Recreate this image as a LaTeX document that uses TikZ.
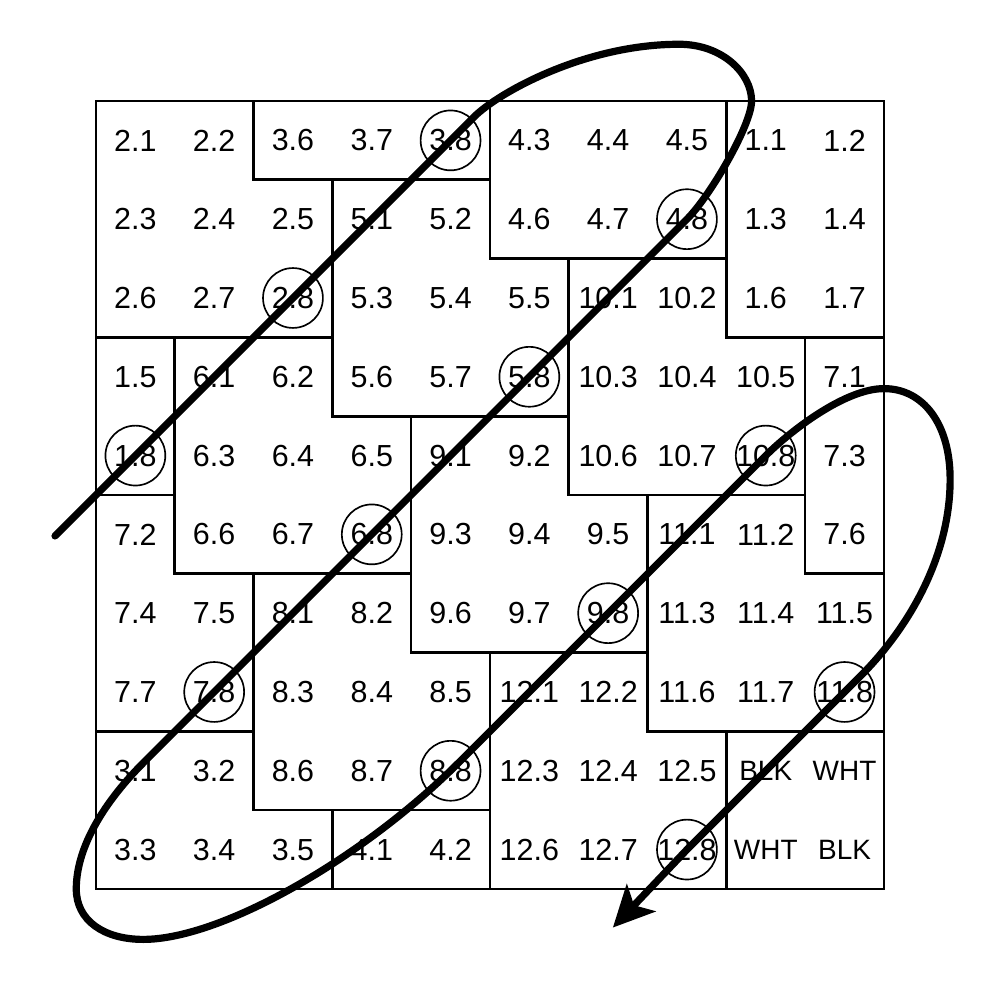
\documentclass[tikz,border=0pt]{standalone}
\usepackage{fontspec}
\setmainfont{Liberation Sans}
\usetikzlibrary{arrows.meta}
\newcommand\tagfont{\fontsize{10.1}{12}\selectfont}
\tikzset{
  cell/.style={inner sep=0pt, font=\fontsize{11}{13}\selectfont},
  ring/.style={circle, draw, line width=0.6pt, minimum size=0.76cm, inner sep=0pt},
  wall/.style={line width=0.95pt},
  track/.style={line width=2.6pt, line cap=round, line join=round,
    -{Stealth[length=5.2mm,width=5mm,inset=1.3mm]}},
}
\begin{document}
\begin{tikzpicture}
  \useasboundingbox (-1.218,-1.409) rectangle (11.472,11.282);
  % cells, one row per line
  \foreach \t [count=\c from 0] in {2.1,2.2,3.6,3.7,3.8,4.3,4.4,4.5,1.1,1.2}
    \node[cell] (a\c) at (\c+.5,9.5) {\t};
  \foreach \t [count=\c from 0] in {2.3,2.4,2.5,5.1,5.2,4.6,4.7,4.8,1.3,1.4}
    \node[cell] (b\c) at (\c+.5,8.5) {\t};
  \foreach \t [count=\c from 0] in {2.6,2.7,2.8,5.3,5.4,5.5,10.1,10.2,1.6,1.7}
    \node[cell] (c\c) at (\c+.5,7.5) {\t};
  \foreach \t [count=\c from 0] in {1.5,6.1,6.2,5.6,5.7,5.8,10.3,10.4,10.5,7.1}
    \node[cell] (d\c) at (\c+.5,6.5) {\t};
  \foreach \t [count=\c from 0] in {1.8,6.3,6.4,6.5,9.1,9.2,10.6,10.7,10.8,7.3}
    \node[cell] (e\c) at (\c+.5,5.5) {\t};
  \foreach \t [count=\c from 0] in {7.2,6.6,6.7,6.8,9.3,9.4,9.5,11.1,11.2,7.6}
    \node[cell] (f\c) at (\c+.5,4.5) {\t};
  \foreach \t [count=\c from 0] in {7.4,7.5,8.1,8.2,9.6,9.7,9.8,11.3,11.4,11.5}
    \node[cell] (g\c) at (\c+.5,3.5) {\t};
  \foreach \t [count=\c from 0] in {7.7,7.8,8.3,8.4,8.5,12.1,12.2,11.6,11.7,11.8}
    \node[cell] (h\c) at (\c+.5,2.5) {\t};
  \foreach \t [count=\c from 0] in {3.1,3.2,8.6,8.7,8.8,12.3,12.4,12.5,{\tagfont BLK},{\tagfont WHT}}
    \node[cell] (i\c) at (\c+.5,1.5) {\t};
  \foreach \t [count=\c from 0] in {3.3,3.4,3.5,4.1,4.2,12.6,12.7,12.8,{\tagfont WHT},{\tagfont BLK}}
    \node[cell] (j\c) at (\c+.5,0.5) {\t};

  % region walls
  \draw[wall] (0,0) rectangle (10,10);
  \draw[wall] (2,10) -- (2,9) -- (5,9);
  \draw[wall] (5,10) -- (5,8) -- (8,8);
  \draw[wall] (8,10) -- (8,7) -- (10,7);
  \draw[wall] (3,9) -- (3,6) -- (6,6) (0,7) -- (3,7);
  \draw[wall] (6,8) -- (6,5) -- (9,5) (9,7) -- (9,4) -- (10,4);
  \draw[wall] (1,7) -- (1,4) -- (4,4) (0,5) -- (1,5);
  \draw[wall] (4,6) -- (4,3) -- (7,3);
  \draw[wall] (7,5) -- (7,2) -- (10,2);
  \draw[wall] (2,4) -- (2,1) -- (5,1) (0,2) -- (2,2);
  \draw[wall] (5,3) -- (5,0);
  \draw[wall] (3,1) -- (3,0);
  \draw[wall] (8,2) -- (8,0);

  % circled cells
  \node[ring] (ring1) at (e0) {};
  \node[ring] (ring2) at (c2) {};
  \node[ring] (ring3) at (a4) {};
  \node[ring] (ring4) at (b7) {};
  \node[ring] (ring5) at (d5) {};
  \node[ring] (ring6) at (f3) {};
  \node[ring] (ring7) at (h1) {};
  \node[ring] (ring8) at (i4) {};
  \node[ring] (ring9) at (g6) {};
  \node[ring] (ring10) at (e8) {};
  \node[ring] (ring11) at (h9) {};
  \node[ring] (ring12) at (j7) {};

  \coordinate (start) at (-0.52,4.48);
  \coordinate (stop) at (6.56,-0.49);
  \draw[track] (start) -- (ring1.center) -- (ring2.center) -- (ring3.center) -- (4.8,9.8)
    .. controls (5.1,10.1) and (6.2,10.72) .. (7.4,10.72)
    .. controls (7.95,10.72) and (8.32,10.35) .. (8.32,10)
    .. controls (8.32,9.7) and (7.8,8.8) .. (ring4.center)
    -- (ring5.center) -- (ring6.center) -- (ring7.center) -- (0.6,1.6)
    .. controls (0.2,1.2) and (-0.25,0.6) .. (-0.25,0)
    .. controls (-0.25,-0.4) and (0.1,-0.64) .. (0.6,-0.64)
    .. controls (1.6,-0.64) and (3.4,0.4) .. (4.6,1.6)
    -- (ring9.center) -- (ring10.center)
    .. controls (8.8,5.8) and (9.5,6.35) .. (10,6.35)
    .. controls (10.5,6.35) and (10.84,5.9) .. (10.84,5.2)
    .. controls (10.84,4.2) and (10.3,3.3) .. (9.7,2.7)
    -- (ring11.center) -- (ring12.center) -- (stop);
\end{tikzpicture}
\end{document}
